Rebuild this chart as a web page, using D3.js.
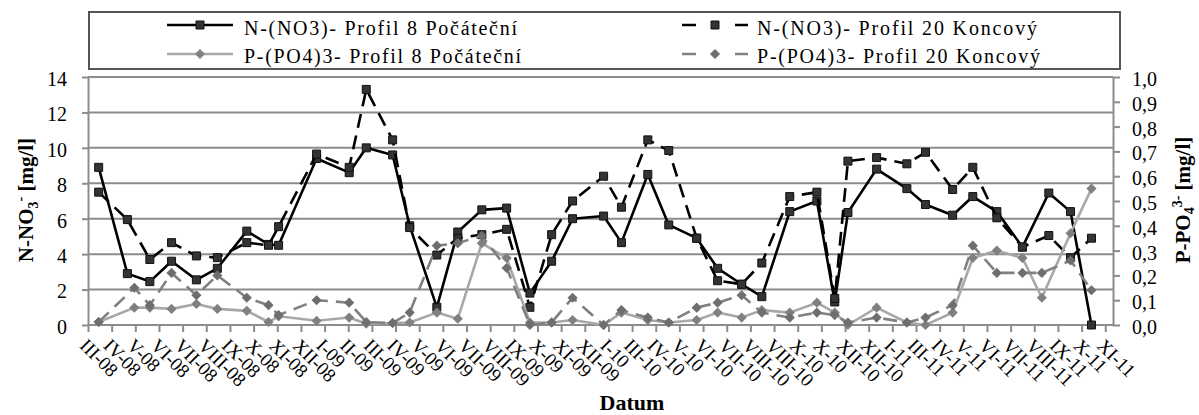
<!DOCTYPE html>
<html>
<head>
<meta charset="utf-8">
<script src="https://cdn.jsdelivr.net/npm/d3@7"></script>
<style>
  body { margin: 0; background: #fff; }
  svg text { font-family: "Liberation Serif", "Times New Roman", serif; fill: #000; }
</style>
</head>
<body>
<svg id="chart" width="1199" height="415"></svg>
<script>
// Axis tick labels (month in Roman numerals - year), one per 30.5-day step
const tickLabels = ["III-08","IV-08","V-08","VI-08","VII-08","VIII-08","IX-08","X-08","XI-08","XII-08",
  "I-09","II-09","III-09","IV-09","V-09","VI-09","VII-09","VIII-09","IX-09","X-09","XI-09","XII-09",
  "I-10","III-10","IV-10","V-10","VI-10","VII-10","VIII-10","VIII-10","X-10","X-10","XII-10","XII-10",
  "I-11","III-11","IV-11","V-11","VI-11","VII-11","VIII-11","IX-11","X-11","XI-11"];

const leftTicks = [0, 2, 4, 6, 8, 10, 12, 14];
const rightTicks = [0, 0.1, 0.2, 0.3, 0.4, 0.5, 0.6, 0.7, 0.8, 0.9, 1.0];

// Nitrate sampling dates and concentrations [mg/l]
const nDates = ["2008-04-13","2008-05-20","2008-06-18","2008-07-16","2008-08-17","2008-09-13","2008-10-21",
  "2008-11-18","2008-12-01","2009-01-19","2009-03-02","2009-03-24","2009-04-27","2009-05-19","2009-06-23",
  "2009-07-20","2009-08-20","2009-09-21","2009-10-21","2009-11-18","2009-12-15","2010-01-24","2010-02-16",
  "2010-03-22","2010-04-18","2010-05-24","2010-06-20","2010-07-21","2010-08-16","2010-09-21","2010-10-26",
  "2010-11-18","2010-12-05","2011-01-11","2011-02-19","2011-03-15","2011-04-19","2011-05-15","2011-06-15",
  "2011-07-18","2011-08-21","2011-09-18","2011-10-15"];
const nProfil8 = [8.9, 2.9, 2.45, 3.6, 2.55, 3.2, 5.3, 4.55, 4.5, 9.4, 8.6, 10.0, 9.6, 5.6, 1.0,
  5.25, 6.5, 6.6, 1.8, 3.6, 6.0, 6.15, 4.65, 8.5, 5.65, 4.9, 3.2, 2.3, 1.6, 6.4, 7.0,
  1.3, 6.35, 8.8, 7.7, 6.8, 6.2, 7.25, 6.4, 4.4, 7.45, 6.4, 0];
const nProfil20 = [7.5, 5.95, 3.7, 4.65, 3.9, 3.8, 4.65, 4.5, 5.55, 9.65, 8.9, 13.3, 10.45, 5.5, 3.95,
  4.9, 5.1, 5.4, 1.0, 5.1, 7.0, 8.4, 6.65, 10.45, 9.85, 4.9, 2.5, 2.3, 3.5, 7.25, 7.5,
  1.5, 9.25, 9.45, 9.1, 9.75, 7.65, 8.9, 6.05, 4.4, 5.05, 3.8, 4.9];

// Phosphate sampling dates and concentrations [mg/l]
const pDates = ["2008-04-13","2008-05-29","2008-06-18","2008-07-16","2008-08-17","2008-09-13","2008-10-21",
  "2008-11-18","2008-12-01","2009-01-19","2009-03-02","2009-03-24","2009-04-27","2009-05-19","2009-06-23",
  "2009-07-20","2009-08-20","2009-09-21","2009-10-21","2009-11-18","2009-12-15","2010-01-24","2010-02-16",
  "2010-03-22","2010-04-18","2010-05-24","2010-06-20","2010-07-21","2010-08-16","2010-09-21","2010-10-26",
  "2010-11-18","2010-12-05","2011-01-11","2011-02-19","2011-03-15","2011-04-19","2011-05-15","2011-06-15",
  "2011-07-18","2011-08-12","2011-09-18","2011-10-15"];
const pProfil8 = [0.012, 0.07, 0.07, 0.065, 0.085, 0.065, 0.057, 0.012, 0.035, 0.017, 0.03, 0.005, 0.008, 0.01, 0.05,
  0.025, 0.33, 0.27, 0.01, 0.01, 0.02, 0.0, 0.05, 0.02, 0.01, 0.02, 0.05, 0.03, 0.06, 0.05, 0.09,
  0.05, 0.0, 0.07, 0.01, 0.0, 0.05, 0.27, 0.30, 0.27, 0.11, 0.37, 0.55];
const pProfil20 = [0.012, 0.15, 0.08, 0.21, 0.12, 0.2, 0.11, 0.08, 0.04, 0.1, 0.09, 0.012, 0.008, 0.05, 0.32,
  0.33, 0.36, 0.23, 0.0, 0.01, 0.11, 0.0, 0.06, 0.03, 0.01, 0.07, 0.09, 0.12, 0.05, 0.03, 0.05,
  0.04, 0.01, 0.03, 0.01, 0.03, 0.08, 0.32, 0.21, 0.21, 0.21, 0.26, 0.14];

const seriesNames = ["N-(NO3)- Profil 8 Počáteční", "N-(NO3)- Profil 20 Koncový",
  "P-(PO4)3- Profil 8 Počáteční", "P-(PO4)3- Profil 20 Koncový"];

// ---- layout ----
const plot = { left: 88, right: 1113, top: 77, bottom: 325 };
const axisStart = new Date(2008, 2, 30, 6);
const axisEnd = new Date(2011, 10, 11, 18);
const tickStepHours = 30.5 * 24;
const parse = d3.timeParse("%Y-%m-%d");
const gridColor = "#8c8c8c";

const svg = d3.select("#chart");
svg.append("rect").attr("width", 1199).attr("height", 415).attr("fill", "#fff");

const x = d3.scaleTime().domain([axisStart, axisEnd]).range([plot.left, plot.right]);
const yN = d3.scaleLinear().domain([0, 14]).range([plot.bottom, plot.top]);
const yP = d3.scaleLinear().domain([0, 1]).range([plot.bottom, plot.top]);
const tickDates = tickLabels.map((_, k) => d3.timeHour.offset(axisStart, Math.round(k * tickStepHours)));

// gridlines
svg.append("g").selectAll("line").data(leftTicks.filter(v => v > 0)).join("line")
  .attr("x1", plot.left).attr("x2", plot.right)
  .attr("y1", d => yN(d)).attr("y2", d => yN(d))
  .attr("stroke", gridColor).attr("stroke-width", 2);

function styleAxis(g) {
  g.attr("font-family", null);
  g.selectAll("path, line").attr("stroke", gridColor).attr("stroke-width", 2);
  g.selectAll("text").attr("font-size", 20).attr("fill", "#000");
}

// left axis
svg.append("g").attr("transform", `translate(${plot.left},0)`)
  .call(d3.axisLeft(yN).tickValues(leftTicks).tickFormat(d3.format("d")).tickSize(6).tickSizeOuter(0).tickPadding(15))
  .call(styleAxis)
  .call(g => g.selectAll("text").attr("dy", "0.42em"));

// right axis
svg.append("g").attr("transform", `translate(${plot.right},0)`)
  .call(d3.axisRight(yP).tickValues(rightTicks).tickFormat(d => d.toFixed(1).replace(".", ",")).tickSize(7).tickSizeOuter(0).tickPadding(12))
  .call(styleAxis)
  .call(g => g.selectAll("text").attr("dy", "0.42em"));

// bottom axis
svg.append("g").attr("transform", `translate(0,${plot.bottom})`)
  .call(d3.axisBottom(x).tickValues(tickDates).tickFormat((d, i) => tickLabels[i]).tickSize(7).tickSizeOuter(0))
  .call(styleAxis)
  .call(g => g.select(".domain").attr("d", `M${plot.left},0H${plot.right}`))
  .call(g => g.selectAll("text")
    .attr("font-size", 19)
    .attr("text-anchor", "start")
    .attr("x", 0).attr("y", 0).attr("dy", "0.35em")
    .attr("transform", "translate(-5,17) rotate(45)"));

// series
const squareSym = d3.symbol().type(d3.symbolSquare).size(64)();
const diamondSym = d3.symbol().type(d3.symbolSquare).size(38)();

const seriesStyles = [
  { dates: nDates, values: nProfil8, y: yN, stroke: "#000", dash: null, marker: "square", fill: "#333" },
  { dates: nDates, values: nProfil20, y: yN, stroke: "#000", dash: "14,8", marker: "square", fill: "#333" },
  { dates: pDates, values: pProfil8, y: yP, stroke: "#a8a8a8", dash: null, marker: "diamond", fill: "#808080" },
  { dates: pDates, values: pProfil20, y: yP, stroke: "#808080", dash: "14,8", marker: "diamond", fill: "#6e6e6e" }
];

function drawMarker(sel, s) {
  if (s.marker === "square") {
    sel.attr("d", squareSym).attr("fill", s.fill).attr("stroke", "#111").attr("stroke-width", 1);
  } else {
    sel.attr("d", diamondSym).attr("fill", s.fill).attr("stroke", s.fill).attr("stroke-width", 1);
  }
}

seriesStyles.forEach(s => {
  const pts = s.dates.map((d, i) => [x(parse(d)), s.y(s.values[i])]);
  const g = svg.append("g");
  g.append("path").attr("d", d3.line()(pts))
    .attr("fill", "none").attr("stroke", s.stroke).attr("stroke-width", 2.6)
    .attr("stroke-dasharray", s.dash).attr("stroke-linejoin", "round");
  g.selectAll("path.m").data(pts).join("path").attr("class", "m")
    .attr("transform", d => `translate(${d[0]},${d[1]})` + (s.marker === "diamond" ? " rotate(45)" : ""))
    .call(drawMarker, s);
});

// axis titles
const leftTitle = svg.append("text")
  .attr("transform", "translate(33,200) rotate(-90)")
  .attr("text-anchor", "middle").attr("font-size", 21).attr("font-weight", "bold");
leftTitle.append("tspan").text("N-NO");
leftTitle.append("tspan").text("3").attr("font-size", 14).attr("dy", 5);
leftTitle.append("tspan").text("-").attr("font-size", 14).attr("dy", -13);
leftTitle.append("tspan").text(" [mg/l]").attr("dy", 8);

const rightTitle = svg.append("text")
  .attr("transform", "translate(1190,200) rotate(-90)")
  .attr("text-anchor", "middle").attr("font-size", 21).attr("font-weight", "bold");
rightTitle.append("tspan").text("P-PO");
rightTitle.append("tspan").text("4").attr("font-size", 14).attr("dy", 4);
rightTitle.append("tspan").text("3-").attr("font-size", 14).attr("dy", -12);
rightTitle.append("tspan").text(" [mg/l]").attr("dy", 8);

svg.append("text").attr("x", 632).attr("y", 410).attr("text-anchor", "middle")
  .attr("font-size", 22).attr("font-weight", "bold").text("Datum");

// legend
const legend = svg.append("g");
legend.append("rect").attr("x", 89).attr("y", 12).attr("width", 1031).attr("height", 57)
  .attr("fill", "#fff").attr("stroke", "#555").attr("stroke-width", 2);

const legendItems = [
  { s: seriesStyles[0], name: seriesNames[0], lx: 167, tx: 244, ly: 25, ty: 35, tl: 273 },
  { s: seriesStyles[1], name: seriesNames[1], lx: 682, tx: 757, ly: 25, ty: 35, tl: 280 },
  { s: seriesStyles[2], name: seriesNames[2], lx: 167, tx: 244, ly: 54, ty: 63, tl: 277 },
  { s: seriesStyles[3], name: seriesNames[3], lx: 682, tx: 757, ly: 54, ty: 63, tl: 283 }
];
legendItems.forEach(it => {
  const g = legend.append("g");
  g.append("line").attr("x1", it.lx).attr("x2", it.lx + 66).attr("y1", it.ly).attr("y2", it.ly)
    .attr("stroke", it.s.stroke).attr("stroke-width", 2.6)
    .attr("stroke-dasharray", it.s.dash ? "14,39" : null);
  g.append("path")
    .attr("transform", `translate(${it.lx + 33},${it.ly})` + (it.s.marker === "diamond" ? " rotate(45)" : ""))
    .call(drawMarker, it.s);
  g.append("text").attr("x", it.tx).attr("y", it.ty).attr("font-size", 20)
    .attr("textLength", it.tl).attr("lengthAdjust", "spacing").text(it.name);
});
</script>
</body>
</html>
